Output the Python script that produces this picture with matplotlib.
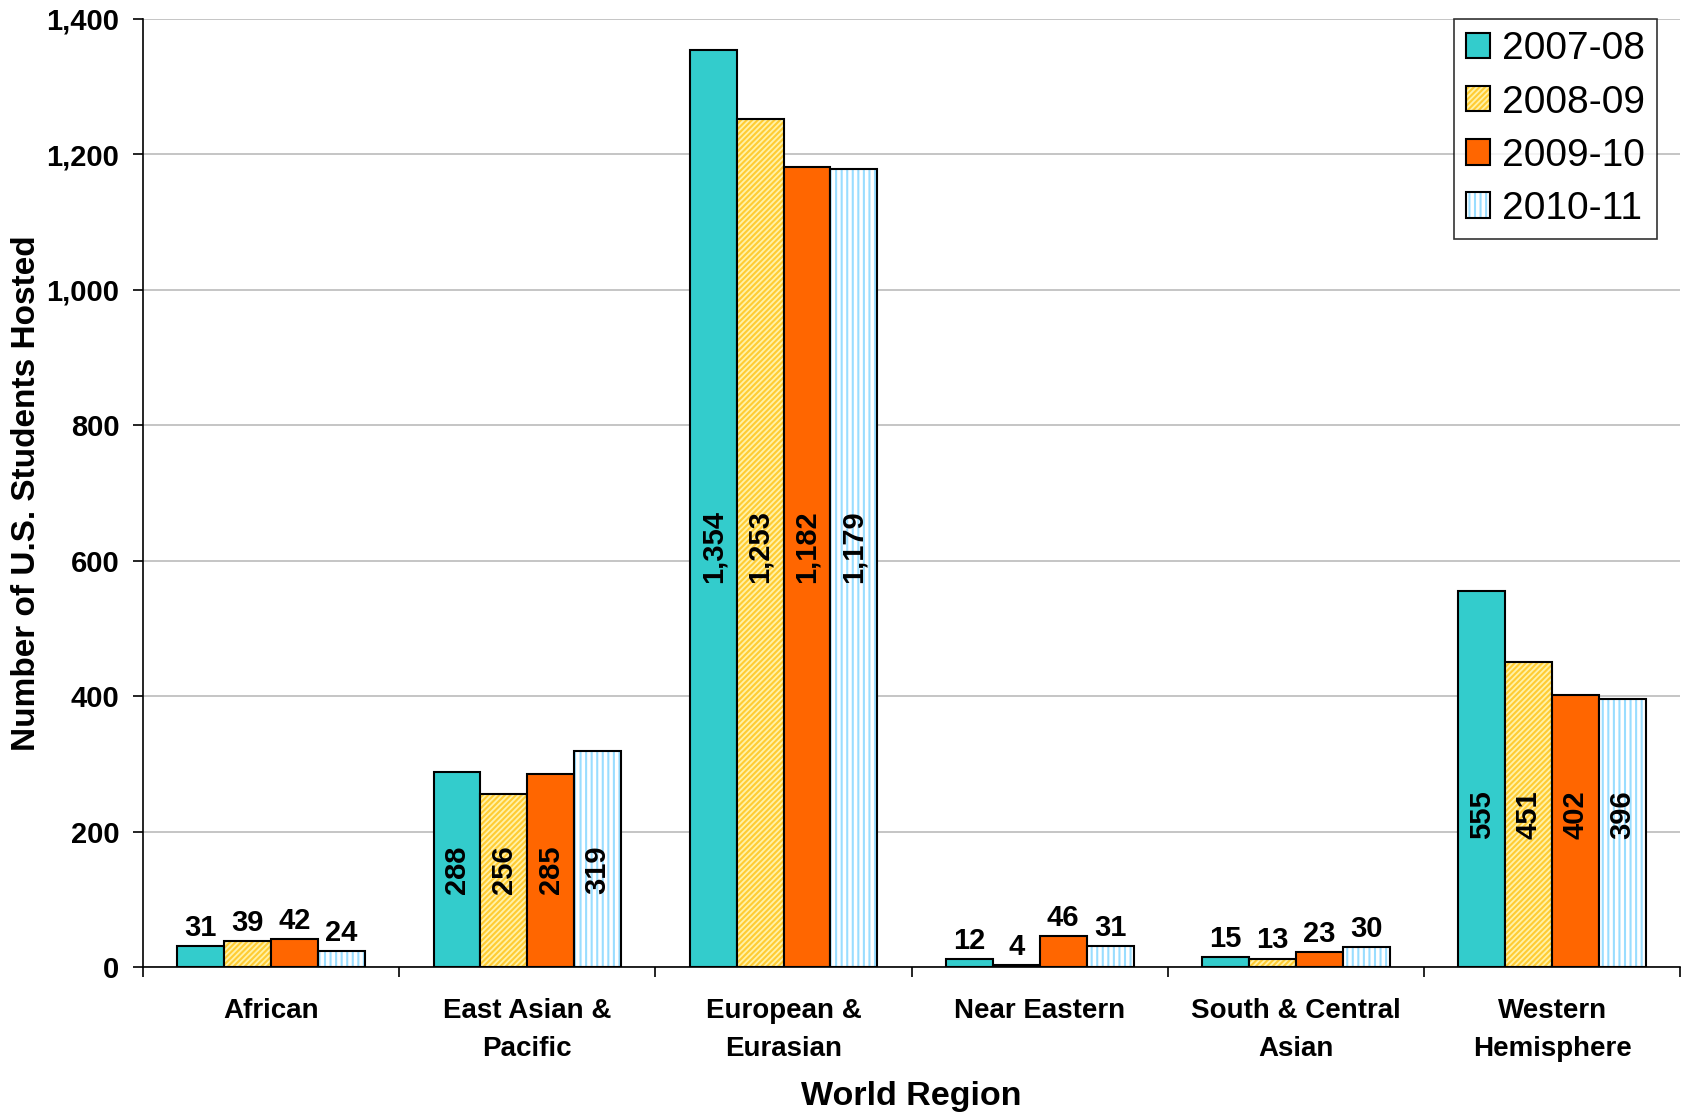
import numpy as np
import matplotlib
matplotlib.use("Agg")
from matplotlib import pyplot as plt

plt.rcParams['font.family'] = ['Liberation Sans', 'DejaVu Sans']
plt.rcParams['hatch.linewidth'] = 1.5

regions = ["African", "East Asian &\nPacific", "European &\nEurasian",
           "Near Eastern", "South & Central\nAsian", "Western\nHemisphere"]
years = ["2007-08", "2008-09", "2009-10", "2010-11"]
y2007 = [31, 288, 1354, 12, 15, 555]
y2008 = [39, 256, 1253, 4, 13, 451]
y2009 = [42, 285, 1182, 46, 23, 402]
y2010 = [24, 319, 1179, 31, 30, 396]
series = [y2007, y2008, y2009, y2010]

styles = [
    dict(facecolor="#33CCCC", hatch=None, hcolor=None),
    dict(facecolor="#FFF2A8", hatch="//////", hcolor="#FFCC33"),
    dict(facecolor="#FF6600", hatch=None, hcolor=None),
    dict(facecolor="white", hatch="|||", hcolor="#99DDFF"),
]

fig = plt.figure(figsize=(16.82, 11.17), dpi=100)
ax = fig.add_axes([0.085, 0.134, 0.914, 0.849])

x = np.arange(len(regions))
w = 0.183
# inside labels sit around the middle of the group, like the original
group_mid = np.mean(series, axis=0) / 2
for i, (vals, st) in enumerate(zip(series, styles)):
    pos = x + (i - 1.5) * w
    bars = ax.bar(pos, vals, w, color=st["facecolor"], edgecolor="black",
                  linewidth=1.5, label=years[i], zorder=3)
    if st["hatch"]:
        for b in bars:
            b.set_hatch(st["hatch"])
            b._hatch_color = matplotlib.colors.to_rgba(st["hcolor"])
    for j, (px, v) in enumerate(zip(pos, vals)):
        s = f"{v:,}"
        if v >= 200:
            ax.text(px, group_mid[j], s, rotation=90, ha="center", va="center",
                    fontsize=21, fontweight="bold", zorder=4)
        else:
            ax.text(px, v + 6, s, ha="center", va="bottom",
                    fontsize=21, fontweight="bold", zorder=4)

ax.set_xlim(-0.5, len(regions) - 0.5)
ax.set_ylim(0, 1400)
ax.set_yticks(np.arange(0, 1401, 200))
ax.set_yticklabels([f"{t:,}" for t in range(0, 1401, 200)], fontsize=21,
                   fontweight="bold")
ax.yaxis.grid(True, color="#BBBBBB", linewidth=1.2, zorder=0)
ax.set_axisbelow(True)

ax.set_xticks(x)
ax.set_xticklabels(regions, fontsize=20, fontweight="bold", linespacing=1.6)
ax.tick_params(axis="x", which="major", length=0, pad=22)
ax.set_xticks(np.arange(-0.5, len(regions) + 0.5, 1), minor=True)
ax.tick_params(axis="x", which="minor", length=7, width=1.2, direction="out")
ax.tick_params(axis="y", length=7, width=1.2, pad=10)

for side in ["top", "right"]:
    ax.spines[side].set_visible(False)
ax.spines["left"].set_linewidth(1.2)
ax.spines["bottom"].set_linewidth(1.2)

ax.set_xlabel("World Region", fontsize=24.5, fontweight="bold", labelpad=14)
ax.set_ylabel("Number of U.S. Students Hosted", fontsize=24,
              fontweight="bold", va="center")
ax.yaxis.set_label_coords(-0.076, 0.5)

leg = ax.legend(loc="upper right", fontsize=28, frameon=True, fancybox=False,
                edgecolor="black", handlelength=0.62, handleheight=0.62,
                handletextpad=0.3, labelspacing=0.44, borderpad=0.32,
                borderaxespad=0, bbox_to_anchor=(0.985, 1.0))
leg.get_frame().set_linewidth(1.2)

plt.savefig("out.png", dpi=100)
plt.close()
